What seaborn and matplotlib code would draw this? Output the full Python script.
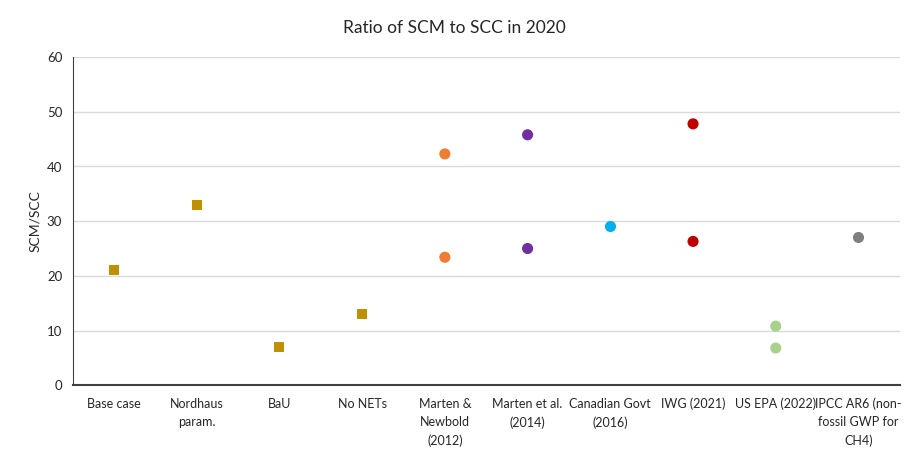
import pandas as pd
import matplotlib.pyplot as plt
import seaborn as sns

# Data
categories = ["Base case", "Nordhaus\nparam.", "BaU", "No NETs", "Marten &\nNewbold\n(2012)",
              "Marten et al.\n(2014)", "Canadian Govt\n(2016)", "IWG (2021)", "US EPA (2022)",
              "IPCC AR6 (non-\nfossil GWP for\nCH4)"]
model_values = [21.0, 33.0, 7.0, 13.1]
study_cats = [4, 4, 5, 5, 6, 7, 7, 8, 8, 9]
study_values = [42.3, 23.4, 45.8, 25.0, 29.2, 47.8, 26.3, 10.8, 6.8, 27.1]
colors = {"Marten &\nNewbold\n(2012)": "#ED7D31", "Marten et al.\n(2014)": "#7030A0",
          "Canadian Govt\n(2016)": "#00B0F0", "IWG (2021)": "#C00000",
          "US EPA (2022)": "#A9D18E", "IPCC AR6 (non-\nfossil GWP for\nCH4)": "#7F7F7F"}

models = pd.DataFrame({"case": categories[:4], "ratio": model_values})
studies = pd.DataFrame({"case": [categories[i] for i in study_cats], "ratio": study_values})

sns.set_style("white")
plt.rcParams["font.family"] = ["Lato", "DejaVu Sans"]

fig = plt.figure(figsize=(9.08, 4.5), dpi=100)
ax = fig.add_axes([0.080, 0.144, 0.911, 0.729])

sns.stripplot(data=models, x="case", y="ratio", order=categories, jitter=False,
              marker="s", color="#BF9000", size=7.5, ax=ax)
sns.stripplot(data=studies, x="case", y="ratio", order=categories, jitter=False,
              hue="case", palette=colors, size=8, legend=False, ax=ax)

ax.set_ylim(0, 60)
ax.set_xlim(-0.5, 9.5)
ax.set_yticks(range(0, 61, 10))
ax.yaxis.grid(True, color="#D9D9D9", linewidth=1)
ax.set_axisbelow(True)
for s in ["top", "right"]:
    ax.spines[s].set_visible(False)
ax.spines["left"].set_color("#404040")
ax.spines["bottom"].set_color("#404040")
ax.spines["bottom"].set_linewidth(1.5)
ax.tick_params(axis="y", length=4, color="#404040", labelsize=9.5)
ax.tick_params(axis="x", length=0, labelsize=9, pad=9)
for lbl in ax.get_xticklabels():
    lbl.set_linespacing(1.6)
    lbl.set_verticalalignment("top")
ax.set_xlabel("")
ax.set_ylabel("SCM/SCC", fontsize=10)
fig.suptitle("Ratio of SCM to SCC in 2020", y=0.955, fontsize=12.5)

fig.savefig("out.png", dpi=100)
